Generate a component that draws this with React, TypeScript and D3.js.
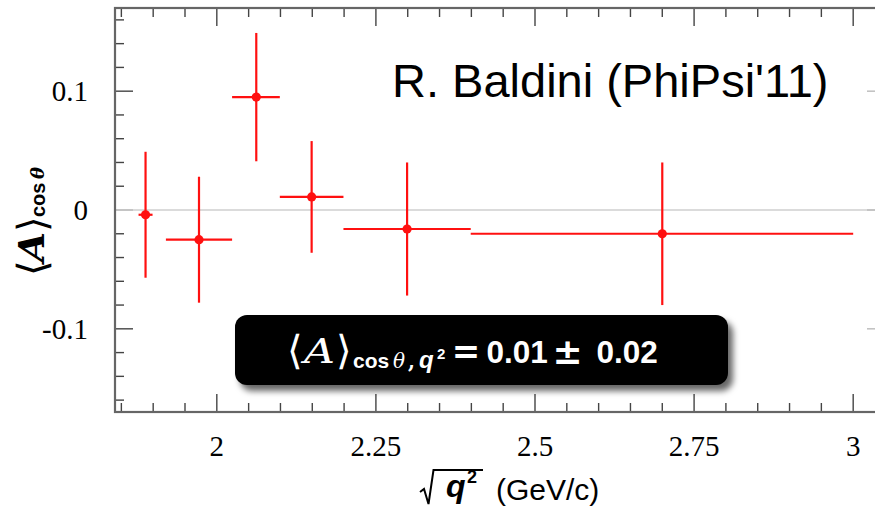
import React from "react";
import * as d3 from "d3";

// ---- data ----
const xCenters = [1.888, 1.972, 2.062, 2.149, 2.299, 2.7];
const binLow = [1.877, 1.92, 2.024, 2.099, 2.199, 2.399];
const binHigh = [1.899, 2.024, 2.099, 2.199, 2.399, 3.0];
const yValues = [-0.004, -0.025, 0.095, 0.011, -0.016, -0.02];
const yErrors = [0.053, 0.053, 0.054, 0.047, 0.056, 0.06];

const xTickValues = [2, 2.25, 2.5, 2.75, 3];
const xTickLabels = ["2", "2.25", "2.5", "2.75", "3"];
const yTickValues = [0.1, 0, -0.1];
const yTickLabels = ["0.1", "0", "-0.1"];

const titleText = "R. Baldini (PhiPsi'11)";

const W = 875;
const H = 507;
const L = 115, R = 885, T = 8, B = 412;

export default function App() {
  const x = d3.scaleLinear().domain([1.84, 3.05]).range([L, R]);
  const y = d3.scaleLinear().domain([-0.17, 0.17]).range([B, T]);

  const xMinor = d3.range(0, 25).map((i) => +(1.85 + i * 0.05).toFixed(3));
  const yMinor = d3.range(0, 17).map((i) => +(-0.16 + i * 0.02).toFixed(3));
  const isMajX = (v: number) => Math.abs(v * 4 - Math.round(v * 4)) < 1e-6;
  const isMajY = (v: number) => Math.abs(v * 10 - Math.round(v * 10)) < 1e-6;

  const serif = "'Liberation Serif', 'Times New Roman', serif";
  const sans = "'Liberation Sans', Arial, Helvetica, sans-serif";
  const dsans = "'DejaVu Sans', sans-serif";
  const dserif = "'DejaVu Serif', serif";
  const tickCol = "#444";
  const red = "#ff1010";

  return (
    <svg
      width={W}
      height={H}
      style={{ position: "fixed", left: 0, top: 0, background: "#fff" }}
    >
      <defs>
        <filter id="sh" x="-10%" y="-30%" width="130%" height="180%">
          <feDropShadow dx="5" dy="6" stdDeviation="3" floodColor="#000" floodOpacity="0.6" />
        </filter>
        <clipPath id="plotclip">
          <rect x={L} y={T} width={R - L} height={B - T} />
        </clipPath>
      </defs>

      {/* zero line */}
      <line x1={L} x2={R} y1={y(0)} y2={y(0)} stroke="#cfcfcf" strokeWidth={1.5} />

      {/* x ticks bottom/top */}
      {xMinor.map((v, i) => {
        const len = isMajX(v) ? 18 : 9;
        return (
          <g key={"xt" + i}>
            <line x1={x(v)} x2={x(v)} y1={B} y2={B - len} stroke={tickCol} strokeWidth={1.4} />
            <line x1={x(v)} x2={x(v)} y1={T} y2={T + len} stroke={tickCol} strokeWidth={1.4} />
          </g>
        );
      })}
      {/* y ticks left/right */}
      {yMinor.map((v, i) => {
        const len = isMajY(v) ? 18 : 9;
        const col = Math.abs(v) < 1e-9 ? "#bbb" : tickCol;
        return (
          <g key={"yt" + i}>
            <line x1={L} x2={L + len} y1={y(v)} y2={y(v)} stroke={col} strokeWidth={1.4} />
            <line x1={R} x2={R - len} y1={y(v)} y2={y(v)} stroke="#bbb" strokeWidth={1.4} />
          </g>
        );
      })}

      {/* frame */}
      <rect x={L} y={T} width={R - L} height={B - T} fill="none" stroke="#666" strokeWidth={2.2} />

      {/* tick labels */}
      {xTickValues.map((v, i) => (
        <text key={"xl" + i} x={x(v)} y={456} textAnchor="middle" fontFamily={serif} fontSize={29} fill="#000">
          {xTickLabels[i]}
        </text>
      ))}
      {yTickValues.map((v, i) => (
        <text key={"yl" + i} x={88} y={y(v) + 10} textAnchor="end" fontFamily={serif} fontSize={29} fill="#000">
          {yTickLabels[i]}
        </text>
      ))}

      {/* data */}
      <g clipPath="url(#plotclip)">
        {xCenters.map((xc, i) => (
          <g key={"p" + i}>
            <line x1={x(binLow[i])} x2={x(binHigh[i])} y1={y(yValues[i])} y2={y(yValues[i])} stroke={red} strokeWidth={2.2} />
            <line x1={x(xc)} x2={x(xc)} y1={y(yValues[i] - yErrors[i])} y2={y(yValues[i] + yErrors[i])} stroke={red} strokeWidth={2.2} />
            <circle cx={x(xc)} cy={y(yValues[i])} r={4.6} fill={red} />
          </g>
        ))}
      </g>

      {/* title */}
      <text x={392} y={97} fontFamily={sans} fontSize={47} fill="#000">
        {titleText}
      </text>

      {/* result box */}
      <rect x={235} y={315} width={493} height={70} rx={12} ry={12} fill="#000" filter="url(#sh)" />
      <g fill="#fff">
        <text x={287} y={364} fontFamily={dsans} fontSize={40} fontWeight={300}>⟨</text>
        <text x={304} y={363} fontFamily={dserif} fontStyle="italic" fontSize={33} textLength={31} lengthAdjust="spacingAndGlyphs">A</text>
        <text x={336} y={364} fontFamily={dsans} fontSize={40} fontWeight={300}>⟩</text>
        <text x={353} y={367.5} fontFamily={sans} fontWeight="bold" fontSize={21}>cos</text>
        <text x={393} y={367.5} fontFamily={dserif} fontStyle="italic" fontSize={20}>θ</text>
        <text x={408} y={367.5} fontFamily={dserif} fontWeight="bold" fontSize={20}>,</text>
        <text x={419} y={367.5} fontFamily={sans} fontStyle="italic" fontWeight="bold" fontSize={24}>q</text>
        <text x={437} y={359} fontFamily={sans} fontWeight="bold" fontSize={15}>2</text>
        <text x={466} y={363} textAnchor="middle" fontFamily={dsans} fontWeight="bold" fontSize={34}>=</text>
        <text x={486.5} y={362.5} fontFamily={sans} fontWeight="bold" fontSize={31.5}>0.01</text>
        <text x={567.5} y={364} textAnchor="middle" fontFamily={dsans} fontWeight="bold" fontSize={36}>±</text>
        <text x={596.5} y={362.5} fontFamily={sans} fontWeight="bold" fontSize={31.5}>0.02</text>
      </g>

      {/* y axis label */}
      <g transform="translate(44,274) rotate(-90)" fill="#000">
        <text x={-2} y={2} fontFamily={dsans} fontSize={40} fontWeight={300}>⟨</text>
        <text x={12} y={0} fontFamily={dserif} fontStyle="italic" fontWeight="bold" fontSize={36} textLength={30} lengthAdjust="spacingAndGlyphs">A</text>
        <text x={42} y={2} fontFamily={dsans} fontSize={40} fontWeight={300}>⟩</text>
        <text x={57} y={1} fontFamily={sans} fontWeight="bold" fontSize={20}>cos</text>
        <text x={95} y={0} fontFamily={dserif} fontStyle="italic" fontWeight="bold" fontSize={18}>θ</text>
      </g>

      {/* x axis label */}
      <path d="M420,492 L424,489 L428.5,504 L433.5,470 L483,470" fill="none" stroke="#000" strokeWidth={2} />
      <text x={446} y={497} fontFamily={sans} fontStyle="italic" fontWeight="bold" fontSize={32} fill="#000">q</text>
      <text x={467} y={483} fontFamily={sans} fontWeight="bold" fontSize={18} fill="#000">2</text>
      <text x={496} y={500} fontFamily={sans} fontSize={30} fill="#000">(GeV/c)</text>
    </svg>
  );
}
